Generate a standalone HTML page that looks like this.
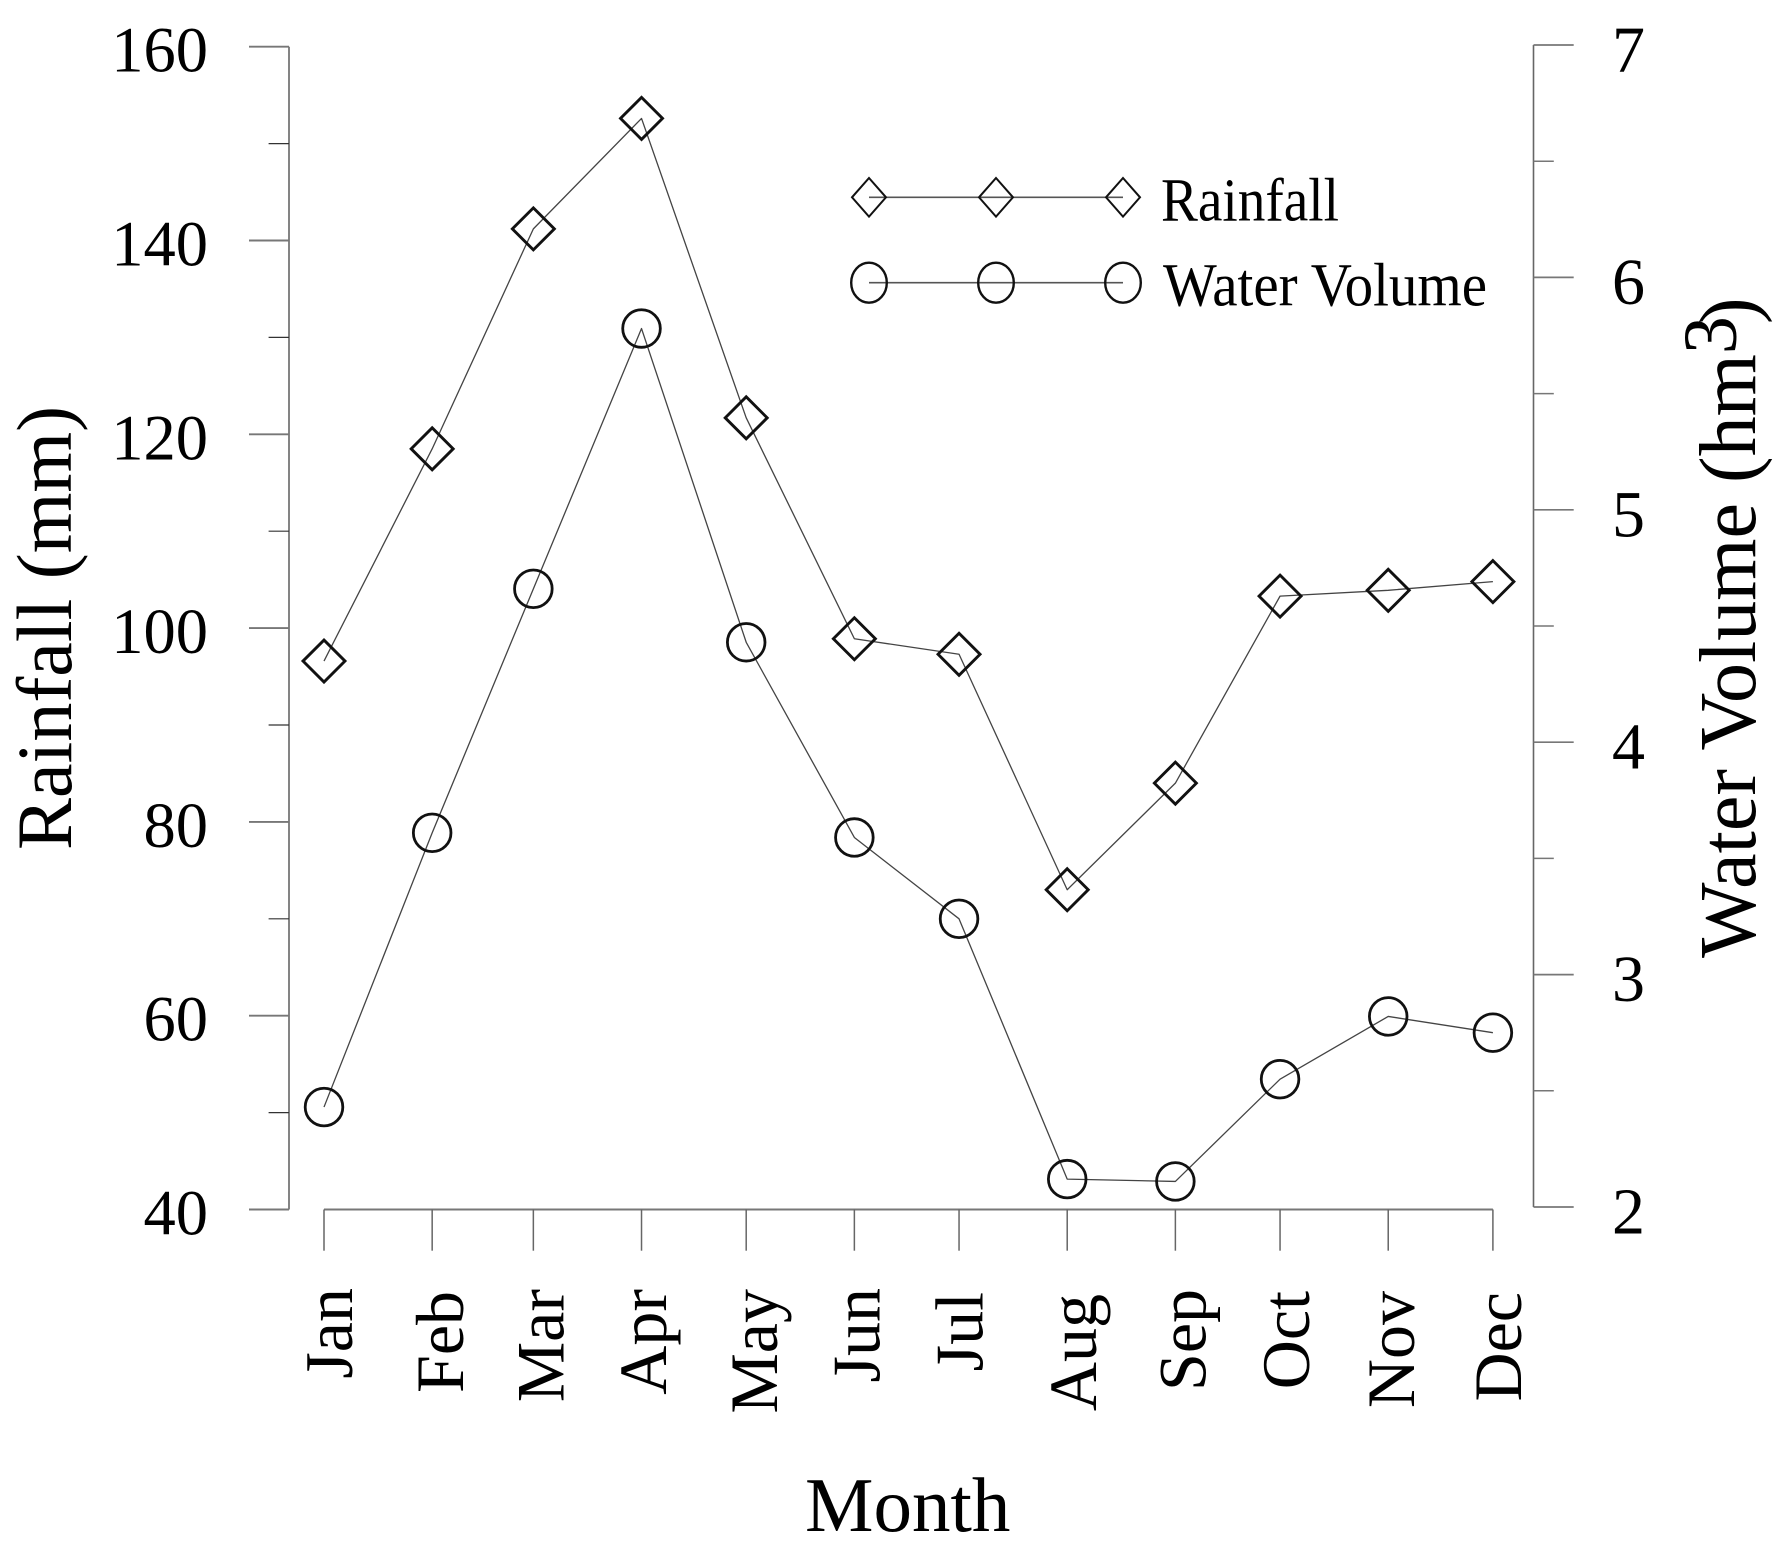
<!DOCTYPE html>
<html lang="en">
<head>
<meta charset="utf-8">
<title>Monthly Rainfall and Water Volume</title>
<style>
  html, body { margin: 0; padding: 0; background: #fff; }
  svg { display: block; }
  text { font-family: "Liberation Serif", serif; fill: #000; }
</style>
</head>
<body>
<svg id="chart" xmlns="http://www.w3.org/2000/svg" width="1786" height="1546" viewBox="0 0 1786 1546">
  <rect x="0" y="0" width="1786" height="1546" fill="#fff"/>
  <g id="axes"></g>
  <g id="series"></g>

  <text transform="translate(71,850) rotate(-90)" font-size="78">Rainfall (mm)</text>
  <text transform="translate(1755,958) rotate(-90)" font-size="80">Water Volume (hm<tspan dy="-19" font-size="76">3</tspan><tspan dy="19" dx="-8">)</tspan></text>
  <text x="805" y="1531" font-size="77">Month</text>

  <g>
    <g>
      <line x1="869" y1="197.3" x2="1123" y2="197.3" stroke="#555" stroke-width="1.6"/>
      <polygon points="869,178 886,197.3 869,216.6 852,197.3" fill="none" stroke="#111" stroke-width="2"/>
      <polygon points="996,178 1013,197.3 996,216.6 979,197.3" fill="none" stroke="#111" stroke-width="2"/>
      <polygon points="1123,178 1140,197.3 1123,216.6 1106,197.3" fill="none" stroke="#111" stroke-width="2"/>
      <text x="1161" y="220.5" font-size="61" textLength="178" lengthAdjust="spacingAndGlyphs">Rainfall</text>
    </g>
    <g>
      <line x1="869" y1="282.7" x2="1123" y2="282.7" stroke="#555" stroke-width="1.6"/>
      <ellipse cx="869" cy="282.7" rx="17.8" ry="20" fill="none" stroke="#111" stroke-width="2.4"/>
      <ellipse cx="996" cy="282.7" rx="17.8" ry="20" fill="none" stroke="#111" stroke-width="2.4"/>
      <ellipse cx="1123" cy="282.7" rx="17.8" ry="20" fill="none" stroke="#111" stroke-width="2.4"/>
      <text x="1163" y="305.5" font-size="61" textLength="324" lengthAdjust="spacingAndGlyphs">Water Volume</text>
    </g>
  </g>
</svg>

<script>
// ---- chart data ----
const months = ["Jan","Feb","Mar","Apr","May","Jun","Jul","Aug","Sep","Oct","Nov","Dec"];
const monthDays = [0,31,60,91,121,152,182,213,244,274,305,335];
const rainfall = [96.6,118.5,141.2,152.6,121.7,98.9,97.3,73.0,84.0,103.3,103.9,104.8];
const waterVolume = [2.43,3.61,4.66,5.78,4.43,3.59,3.24,2.12,2.11,2.55,2.82,2.75];
const leftMajorTicks = [40,60,80,100,120,140,160];
const leftMinorTicks = [50,70,90,110,130,150];
const rightMajorTicks = [2,3,4,5,6,7];
const rightMinorTicks = [2.5,3.5,4.5,5.5,6.5];

// ---- layout (not data) ----
const layout = {
  leftAxisX: 289, rightAxisX: 1533.5, xAxisY: 1209.5,
  xLeft: 324, xRight: 1492.9, dayMax: 335,
  leftTop: 46.7, leftBottom: 1209.5, leftMin: 40, leftMax: 160,
  rightTop: 45, rightBottom: 1207, rightMin: 2, rightMax: 7,
  monthLabelGap: [28,30.7,30,24.5,30.6,25,23.6,29,30,29,25.8,28],
  monthLabelEnd: [1288,1291,1289,1289,1289,1288,1292,1294,1289,1291,1291,1292]
};

const xScale = function (day) {
  return layout.xLeft + day * (layout.xRight - layout.xLeft) / layout.dayMax;
};
const yLeft = function (v) {
  return layout.leftBottom - (v - layout.leftMin) * (layout.leftBottom - layout.leftTop) / (layout.leftMax - layout.leftMin);
};
const yRight = function (v) {
  return layout.rightBottom - (v - layout.rightMin) * (layout.rightBottom - layout.rightTop) / (layout.rightMax - layout.rightMin);
};

const NS = "http://www.w3.org/2000/svg";
function mk(tag, attrs, parent) {
  const el = document.createElementNS(NS, tag);
  Object.keys(attrs).forEach(function (k) { el.setAttribute(k, attrs[k]); });
  parent.appendChild(el);
  return el;
}

const axes = document.getElementById("axes");
const seriesLayer = document.getElementById("series");

// left axis
const leftSpine = mk("line", {x1: layout.leftAxisX, y1: layout.leftTop, x2: layout.leftAxisX, y2: layout.leftBottom, stroke: "#666", "stroke-width": 1.6}, axes);



leftMajorTicks.forEach(function (v) {
  const t = mk("line", {x1: 249, y1: yLeft(v), x2: layout.leftAxisX, y2: yLeft(v), stroke: "#777", "stroke-width": 1.9}, axes);
  
  
  const l = mk("text", {x: 208, y: yLeft(v) + 25, "font-size": 64.5, "text-anchor": "end"}, axes);
  l.textContent = String(v);
  
  
});
leftMinorTicks.forEach(function (v) {
  const t = mk("line", {x1: 268.6, y1: yLeft(v), x2: layout.leftAxisX, y2: yLeft(v), stroke: "#333", "stroke-width": 1.2}, axes);
  
  
});

// right axis
const rightSpine = mk("line", {x1: layout.rightAxisX, y1: layout.rightTop, x2: layout.rightAxisX, y2: layout.rightBottom, stroke: "#666", "stroke-width": 1.6}, axes);



rightMajorTicks.forEach(function (v) {
  const t = mk("line", {x1: layout.rightAxisX, y1: yRight(v), x2: 1573.7, y2: yRight(v), stroke: "#777", "stroke-width": 1.7}, axes);
  
  
  const l = mk("text", {x: 1612, y: yRight(v) + 26.5, "font-size": 66}, axes);
  l.textContent = String(v);
  
  
});
rightMinorTicks.forEach(function (v) {
  const t = mk("line", {x1: layout.rightAxisX, y1: yRight(v), x2: 1553.8, y2: yRight(v), stroke: "#777", "stroke-width": 1.5}, axes);
  
  
});

// x axis
const xSpine = mk("line", {x1: layout.xLeft, y1: layout.xAxisY, x2: layout.xRight, y2: layout.xAxisY, stroke: "#777", "stroke-width": 2}, axes);



months.forEach(function (m, i) {
  const x = xScale(monthDays[i]);
  const t = mk("line", {x1: x, y1: layout.xAxisY, x2: x, y2: 1250.7, stroke: "#666", "stroke-width": 1.5}, axes);
  
  
  const l = mk("text", {transform: "translate(" + (x + layout.monthLabelGap[i]) + "," + layout.monthLabelEnd[i] + ") rotate(-90)", "font-size": 68, "text-anchor": "end"}, axes);
  l.textContent = m;
  
  
});

// rainfall series
const rainLine = mk("polyline", {
  points: rainfall.map(function (v, i) { return xScale(monthDays[i]) + "," + yLeft(v); }).join(" "),
  fill: "none", stroke: "#444", "stroke-width": 1.3, "stroke-linejoin": "round"
}, seriesLayer);



rainfall.forEach(function (v, i) {
  const cx = xScale(monthDays[i]);
  const cy = yLeft(v);
  const d = 21;
  const p = mk("polygon", {
    points: cx + "," + (cy - d) + " " + (cx + d) + "," + cy + " " + cx + "," + (cy + d) + " " + (cx - d) + "," + cy,
    fill: "none", stroke: "#111", "stroke-width": 2.9
  }, seriesLayer);
  
  
});

// water volume series
const waterLine = mk("polyline", {
  points: waterVolume.map(function (v, i) { return xScale(monthDays[i]) + "," + yRight(v); }).join(" "),
  fill: "none", stroke: "#444", "stroke-width": 1.3, "stroke-linejoin": "round"
}, seriesLayer);



waterVolume.forEach(function (v, i) {
  const c = mk("circle", {
    cx: xScale(monthDays[i]), cy: yRight(v), r: 18.8,
    fill: "none", stroke: "#111", "stroke-width": 2.8
  }, seriesLayer);
  
  
});
</script>
</body>
</html>
